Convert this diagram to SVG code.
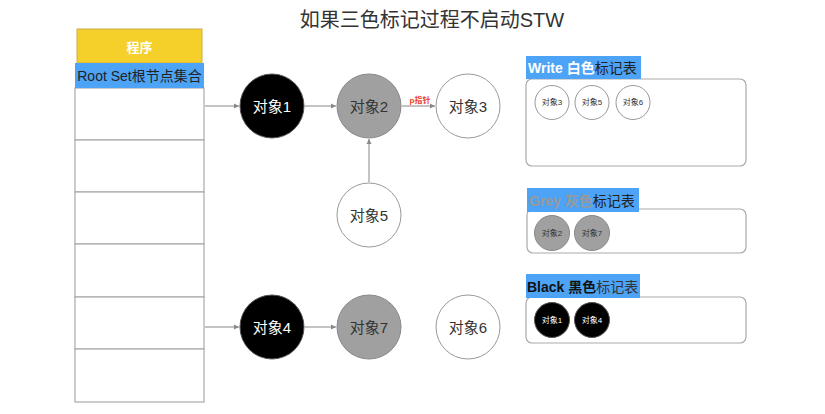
<svg xmlns="http://www.w3.org/2000/svg" width="825" height="414" viewBox="0 0 825 414">
<style>
text{font-family:"Liberation Sans","Noto Sans CJK SC",sans-serif}
.t{fill:#333;font-size:20px}
.row{fill:#fff;stroke:#aaa;stroke-width:1.2}
.nb{fill:#000;stroke:#555;stroke-width:1}
.ng{fill:#a0a0a0;stroke:#888;stroke-width:1}
.nw{fill:#fff;stroke:#999;stroke-width:1}
.lbl{font-size:15px;text-anchor:middle;dominant-baseline:central}
.sm{font-size:8px;text-anchor:middle;dominant-baseline:central}
.panel{fill:#fff;stroke:#aaa;stroke-width:1.2}
.hd{fill:#4da3f5}
.ht{font-size:14px}
.conn{stroke:#888;stroke-width:1;fill:none;marker-end:url(#ah)}
</style>
<defs>
<marker id="ah" markerWidth="6" markerHeight="6" refX="5" refY="3" orient="auto" markerUnits="userSpaceOnUse">
<path d="M0,0.5 L5,3 L0,5.5 z" fill="#888"/>
</marker>
</defs>
<text class="t" x="432" y="27" text-anchor="middle">如果三色标记过程不启动STW</text>
<g id="program">
<rect x="77" y="29" width="125" height="34" fill="#f5cf2a" stroke="#c9b04a" stroke-width="1"/>
<text x="139.5" y="47" font-size="13" font-weight="bold" fill="#fff" text-anchor="middle" dominant-baseline="central">程序</text>
</g>
<g id="rootset">
<rect x="75" y="88" width="129" height="52" class="row"/>
<rect x="75" y="140" width="129" height="52" class="row"/>
<rect x="75" y="192" width="129" height="52" class="row"/>
<rect x="75" y="244" width="129" height="53" class="row"/>
<rect x="75" y="297" width="129" height="52" class="row"/>
<rect x="75" y="349" width="129" height="53" class="row"/>
<rect x="75" y="63" width="129" height="25" fill="#4da3f5"/>
<text x="139.5" y="76" font-size="14" fill="#222" text-anchor="middle" dominant-baseline="central">Root Set根节点集合</text>
</g>
<g id="connectors">
<line class="conn" x1="205" y1="106" x2="239" y2="106"/>
<line class="conn" x1="305" y1="106" x2="336" y2="106"/>
<line class="conn" x1="402" y1="106" x2="435" y2="106"/>
<line class="conn" x1="369" y1="182" x2="369" y2="139"/>
<line class="conn" x1="205" y1="327" x2="239" y2="327"/>
<line class="conn" x1="305" y1="327" x2="336" y2="327"/>
<text x="420" y="103" font-size="8" font-weight="bold" fill="#e8412c" text-anchor="middle">p指针</text>
</g>
<g id="obj1"><circle cx="272" cy="106" r="32" class="nb"/><text x="272" y="106" class="lbl" fill="#fff">对象1</text></g>
<g id="obj2"><circle cx="369" cy="106" r="32" class="ng"/><text x="369" y="106" class="lbl" fill="#333">对象2</text></g>
<g id="obj3"><circle cx="468" cy="106" r="32" class="nw"/><text x="468" y="106" class="lbl" fill="#333">对象3</text></g>
<g id="obj5"><circle cx="369" cy="215" r="32" class="nw"/><text x="369" y="215" class="lbl" fill="#333">对象5</text></g>
<g id="obj4"><circle cx="272" cy="327" r="32" class="nb"/><text x="272" y="327" class="lbl" fill="#fff">对象4</text></g>
<g id="obj7"><circle cx="369" cy="327" r="32" class="ng"/><text x="369" y="327" class="lbl" fill="#333">对象7</text></g>
<g id="obj6"><circle cx="468" cy="327" r="32" class="nw"/><text x="468" y="327" class="lbl" fill="#333">对象6</text></g>
<g id="white-table">
<rect x="526" y="79" width="220" height="87" rx="6" class="panel"/>
<rect x="526" y="56" width="115" height="23" class="hd"/>
<text x="528" y="73" class="ht"><tspan fill="#fff" font-weight="bold">Write 白色</tspan><tspan fill="#222">标记表</tspan></text>
<circle cx="552" cy="102.5" r="17" class="nw"/><text x="552" y="102.5" class="sm" fill="#333">对象3</text>
<circle cx="592" cy="102.5" r="17" class="nw"/><text x="592" y="102.5" class="sm" fill="#333">对象5</text>
<circle cx="633" cy="102.5" r="17" class="nw"/><text x="633" y="102.5" class="sm" fill="#333">对象6</text>
</g>
<g id="grey-table">
<rect x="527" y="209" width="219" height="44" rx="6" class="panel"/>
<rect x="527" y="188" width="112" height="24" class="hd"/>
<text x="529" y="206" class="ht"><tspan fill="#999" font-weight="bold">Grey 灰色</tspan><tspan fill="#222">标记表</tspan></text>
<circle cx="552" cy="233" r="17.5" class="ng"/><text x="552" y="233" class="sm" fill="#333">对象2</text>
<circle cx="592" cy="233" r="17.5" class="ng"/><text x="592" y="233" class="sm" fill="#333">对象7</text>
</g>
<g id="black-table">
<rect x="526" y="297" width="220" height="46" rx="6" class="panel"/>
<rect x="526" y="274" width="114" height="24" class="hd"/>
<text x="527" y="292" class="ht"><tspan fill="#111" font-weight="bold">Black 黑色</tspan><tspan fill="#333">标记表</tspan></text>
<circle cx="552" cy="320" r="17.5" class="nb"/><text x="552" y="320" class="sm" fill="#fff">对象1</text>
<circle cx="592" cy="320" r="17.5" class="nb"/><text x="592" y="320" class="sm" fill="#fff">对象4</text>
</g>
</svg>
